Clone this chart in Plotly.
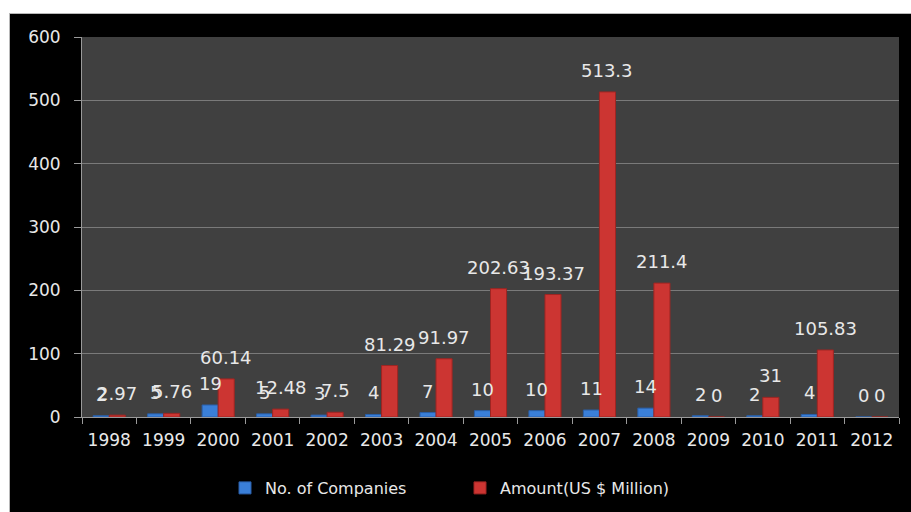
import plotly.graph_objects as go

years = ["1998", "1999", "2000", "2001", "2002", "2003", "2004", "2005",
         "2006", "2007", "2008", "2009", "2010", "2011", "2012"]
companies = [2, 5, 19, 5, 3, 4, 7, 10, 10, 11, 14, 2, 2, 4, 0]
amount = [2.97, 5.76, 60.14, 12.48, 7.5, 81.29, 91.97, 202.63, 193.37,
          513.3, 211.4, 0, 31, 105.83, 0]
y_ticks = [0, 100, 200, 300, 400, 500, 600]

W, H = 911, 512
ML, MR, MT, MB = 82, 12, 37, 95
PW, PH = W - ML - MR, H - MT - MB

def px_x(p):
    return (p - ML) / PW

def px_y(p):
    return (H - MB - p) / PH

FONT = "DejaVu Sans"
TXT = "#e8e8e8"
BLUE = "#3a7fd8"
RED = "#cc3532"

fig = go.Figure()
fig.add_trace(go.Bar(x=years, y=companies, name="No. of Companies",
                     marker=dict(color=BLUE, line=dict(color="#2a5fa8", width=1))))
fig.add_trace(go.Bar(x=years, y=amount, name="Amount(US $ Million)",
                     marker=dict(color=RED, line=dict(color="#9e2522", width=1))))

bar_w = PW / len(years) * (1 - 0.41) / 2
annotations = []
for i, yr in enumerate(years):
    for vals, sh in ((companies, -bar_w / 2), (amount, bar_w / 2)):
        v = vals[i]
        annotations.append(dict(x=i, y=v, xref="x", yref="y", text=f"{v:g}",
                                showarrow=False, xanchor="center", yanchor="bottom",
                                xshift=sh, yshift=9,
                                font=dict(family=FONT, size=18, color=TXT)))

shapes = [
    dict(type="rect", xref="paper", yref="paper", x0=px_x(0), x1=px_x(9),
         y0=px_y(H), y1=px_y(0), fillcolor="white", line=dict(width=0), layer="above"),
    dict(type="rect", xref="paper", yref="paper", x0=px_x(0), x1=px_x(W),
         y0=px_y(13), y1=px_y(0), fillcolor="white", line=dict(width=0), layer="above"),
    dict(type="line", xref="paper", yref="paper", x0=px_x(9.5), x1=px_x(9.5),
         y0=px_y(H), y1=px_y(13), line=dict(color="#b8b8b8", width=1), layer="above"),
    dict(type="line", xref="paper", yref="paper", x0=px_x(9.5), x1=px_x(W),
         y0=px_y(13.5), y1=px_y(13.5), line=dict(color="#b8b8b8", width=1), layer="above"),
]

fig.update_layout(
    width=W, height=H,
    margin=dict(l=ML, r=MR, t=MT, b=MB, autoexpand=False),
    paper_bgcolor="black",
    plot_bgcolor="#404040",
    barmode="group", bargap=0.41, bargroupgap=0,
    annotations=annotations,
    shapes=shapes,
    showlegend=True,
    legend=dict(orientation="h", x=px_x(225), y=px_y(488), xanchor="left",
                yanchor="middle", entrywidth=190, entrywidthmode="pixels",
                font=dict(family=FONT, size=16, color=TXT),
                bgcolor="rgba(0,0,0,0)"),
    font=dict(family=FONT, color=TXT),
)
fig.update_xaxes(type="category", range=[-0.5, len(years) - 0.5], autorange=False,
                 automargin=False, showgrid=False, showline=True,
                 linecolor="#9a9a9a", linewidth=1, tickangle=0,
                 ticks="outside", tickson="boundaries", ticklen=6, tickcolor="#9a9a9a",
                 tickfont=dict(family=FONT, size=17, color=TXT),
                 ticklabelstandoff=8)
fig.update_yaxes(range=[0, 600], autorange=False, automargin=False,
                 tickvals=y_ticks, showgrid=True,
                 gridcolor="#7a7a7a", gridwidth=1, zeroline=False,
                 showline=True, linecolor="#9a9a9a", linewidth=1,
                 ticks="outside", ticklen=7, tickcolor="#9a9a9a",
                 tickfont=dict(family=FONT, size=17, color=TXT),
                 ticklabelstandoff=10)

fig.write_html("out.html", config={"displayModeBar": False},
               post_script="document.body.style.margin='0';document.body.style.overflow='hidden';")
